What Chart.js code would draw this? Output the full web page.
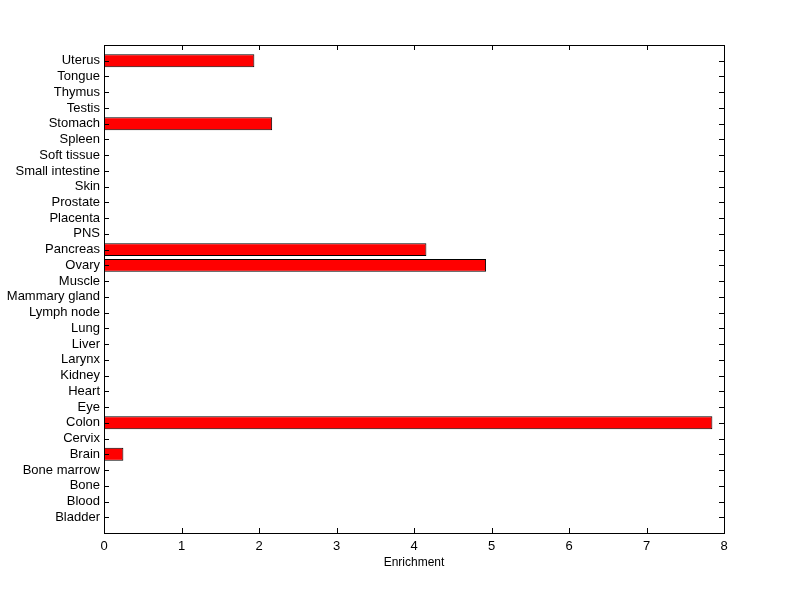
<!DOCTYPE html>
<html>
<head>
<meta charset="utf-8">
<script src="https://cdn.jsdelivr.net/npm/chart.js@4"></script>
<style>
  html, body { margin: 0; padding: 0; background: #fff; }
  #wrap { width: 800px; height: 599px; }
</style>
</head>
<body>
<div id="wrap"><canvas id="chart" width="800" height="599"></canvas></div>
<script>
// bottom to top, as on the axis
const tissues = [
  "Bladder", "Blood", "Bone", "Bone marrow", "Brain", "Cervix", "Colon", "Eye",
  "Heart", "Kidney", "Larynx", "Liver", "Lung", "Lymph node", "Mammary gland",
  "Muscle", "Ovary", "Pancreas", "PNS", "Placenta", "Prostate", "Skin",
  "Small intestine", "Soft tissue", "Spleen", "Stomach", "Testis", "Thymus",
  "Tongue", "Uterus"
];
const enrichment = [
  0, 0, 0, 0, 0.25, 0, 7.85, 0,
  0, 0, 0, 0, 0, 0, 0,
  0, 4.93, 4.16, 0, 0, 0, 0,
  0, 0, 0, 2.17, 0, 0,
  0, 1.94
];
const xTicks = [0, 1, 2, 3, 4, 5, 6, 7, 8];

const FONT = "'Liberation Sans', Arial, sans-serif";

// matlab style box with inward tick marks
const boxTicks = {
  id: "boxTicks",
  afterDraw(chart) {
    const { ctx, chartArea: a, scales } = chart;
    const len = 5;
    ctx.save();
    ctx.strokeStyle = "#000";
    ctx.lineWidth = 1;
    ctx.beginPath();
    for (let i = 1; i <= tissues.length; i++) {
      const y = Math.round(scales.y.getPixelForValue(i)) + 0.5;
      ctx.moveTo(a.left, y); ctx.lineTo(a.left + len, y);
      ctx.moveTo(a.right, y); ctx.lineTo(a.right - len, y);
    }
    for (const t of xTicks) {
      const x = Math.round(scales.x.getPixelForValue(t)) + 0.5;
      ctx.moveTo(x, a.bottom); ctx.lineTo(x, a.bottom - len);
      ctx.moveTo(x, a.top); ctx.lineTo(x, a.top + len);
    }
    ctx.stroke();
    ctx.strokeRect(Math.round(a.left) + 0.5, Math.round(a.top) + 0.5,
      Math.round(a.right - a.left), Math.round(a.bottom - a.top));
    ctx.restore();
  }
};

new Chart(document.getElementById("chart"), {
  type: "bar",
  data: {
    datasets: [{
      data: enrichment.map((v, i) => ({ x: v, y: i + 1 })),
      backgroundColor: "#ff0000",
      borderColor: "#000",
      borderWidth: 1,
      borderSkipped: false,
      barPercentage: 0.82,
      categoryPercentage: 1
    }]
  },
  options: {
    indexAxis: "y",
    responsive: false,
    animation: false,
    layout: { padding: { top: 45, right: 76, left: 0, bottom: 29 } },
    plugins: { legend: { display: false }, tooltip: { enabled: false } },
    scales: {
      x: {
        type: "linear",
        min: 0, max: 8,
        grid: { display: false, drawTicks: false },
        border: { display: false },
        ticks: { stepSize: 1, padding: 6, color: "#000", font: { family: FONT, size: 13 } },
        title: { display: true, text: "Enrichment", color: "#000", padding: { top: 0, bottom: 0 },
                 font: { family: FONT, size: 12 } },
        afterFit: s => { s.height = 37; }
      },
      y: {
        type: "linear",
        offset: false,
        min: 0, max: tissues.length + 1,
        grid: { display: false, drawTicks: false },
        border: { display: false },
        afterBuildTicks: s => {
          s.ticks = tissues.map((_, i) => ({ value: i + 1 }));
        },
        ticks: {
          autoSkip: false, padding: 4, color: "#000", font: { family: FONT, size: 13 },
          callback: v => tissues[v - 1]
        },
        afterFit: s => { s.width = 104; }
      }
    }
  },
  plugins: [boxTicks]
});
</script>
</body>
</html>
